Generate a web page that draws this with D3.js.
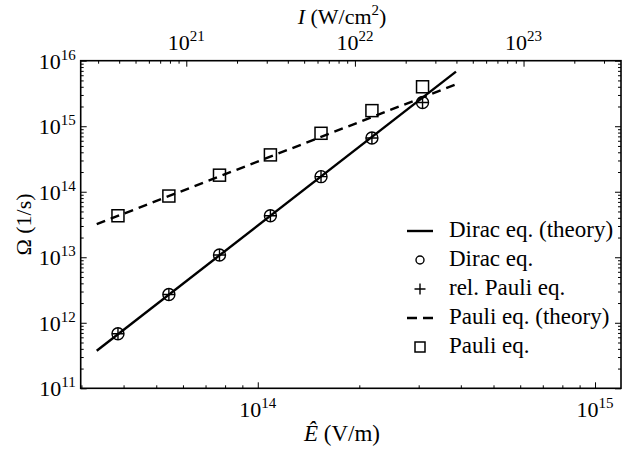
<!DOCTYPE html>
<html>
<head>
<meta charset="utf-8">
<script src="https://cdn.jsdelivr.net/npm/d3@7"></script>
<style>
  body { margin: 0; background: #fff; }
  svg text { font-family: "Liberation Serif", "Times New Roman", serif; fill: #000; }
</style>
</head>
<body>
<svg id="chart" width="631" height="449"></svg>
<script>
// field amplitudes of the simulation runs (V/m)
var eField = [3.85e13, 5.45e13, 7.7e13, 1.09e14, 1.54e14, 2.18e14, 3.08e14];
// spin rotation frequency (1/s)
var omegaDirac    = [6.8e11, 2.7e12, 1.08e13, 4.3e13, 1.7e14, 6.6e14, 2.3e15];
var omegaRelPauli = [6.8e11, 2.7e12, 1.08e13, 4.3e13, 1.7e14, 6.6e14, 2.3e15];
var omegaPauli    = [4.3e13, 8.6e13, 1.79e14, 3.65e14, 7.8e14, 1.73e15, 4.0e15];
// theory curves (end points, straight on log-log)
var diracTheoryE = [3.33e13, 3.87e14];
var diracTheoryOmega = [3.75e11, 6.8e15];
var pauliTheoryE = [3.33e13, 3.85e14];
var pauliTheoryOmega = [3.2e13, 4.3e15];

var eTicks = [1e14, 1e15];
var iTicks = [1e21, 1e22, 1e23];
var omegaTicks = [1e11, 1e12, 1e13, 1e14, 1e15, 1e16];
var legendLabels = ["Dirac eq. (theory)", "Dirac eq.", "rel. Pauli eq.", "Pauli eq. (theory)", "Pauli eq."];

// I = c*eps0*E^2, in W/cm^2
function toIntensity(e) { return 299792458 * 8.8541878e-12 * e * e / 1e4; }

var margin = {top: 60.7, left: 80.7},
    width = 540.3,
    height = 327.6;

var svg = d3.select("#chart")
  .append("g")
    .attr("transform", "translate(" + margin.left + "," + margin.top + ")");

var eMin = 2.985e13, eMax = 1.194e15;
var x = d3.scaleLog().domain([eMin, eMax]).range([0, width]);
var xI = d3.scaleLog().domain([toIntensity(eMin), toIntensity(eMax)]).range([0, width]);
var y = d3.scaleLog().domain([1e11, 1e16]).range([height, 0]);

function isPow10(v) { var l = Math.log10(v); return Math.abs(l - Math.round(l)) < 1e-6; }
function minors(s) { return s.ticks().filter(function(v) { return !isPow10(v); }); }

// ticks (all inward)
function addAxis(axisFn, scale, values, size, transform) {
  var g = svg.append("g")
    .attr("transform", transform || null)
    .call(axisFn(scale).tickValues(values).tickSize(-size).tickFormat(""));
  g.select(".domain").remove();
  g.selectAll("line").attr("stroke", "#000").attr("stroke-width", 1);
}
addAxis(d3.axisBottom, x, eTicks, 6, "translate(0," + height + ")");
addAxis(d3.axisBottom, x, minors(x), 3, "translate(0," + height + ")");
addAxis(d3.axisTop, xI, iTicks, 6);
addAxis(d3.axisTop, xI, minors(xI), 3);
addAxis(d3.axisLeft, y, omegaTicks, 6);
addAxis(d3.axisLeft, y, minors(y), 3);
addAxis(d3.axisRight, y, omegaTicks, 6, "translate(" + width + ",0)");
addAxis(d3.axisRight, y, minors(y), 3, "translate(" + width + ",0)");

// frame
svg.append("rect")
  .attr("width", width).attr("height", height)
  .attr("fill", "none").attr("stroke", "#000").attr("stroke-width", 1.6);

// tick labels as 10^n
function powLabel(sel, v) {
  sel.append("tspan").text("10");
  sel.append("tspan").attr("dy", -9).style("font-size", "15px").text(Math.round(Math.log10(v)));
}
eTicks.forEach(function(v) {
  svg.append("text").attr("x", x(v)).attr("y", height + 29)
    .attr("text-anchor", "middle").style("font-size", "22px")
    .call(powLabel, v);
});
iTicks.forEach(function(v) {
  svg.append("text").attr("x", xI(v)).attr("y", -11)
    .attr("text-anchor", "middle").style("font-size", "22px")
    .call(powLabel, v);
});
omegaTicks.forEach(function(v) {
  svg.append("text").attr("x", -5).attr("y", y(v) + 8)
    .attr("text-anchor", "end").style("font-size", "22px")
    .call(powLabel, v);
});

// axis titles
var root = d3.select("#chart");
var tb = root.append("text").attr("x", 342).attr("y", 441)
  .attr("text-anchor", "middle").style("font-size", "23px");
tb.append("tspan").style("font-style", "italic").text("\u00CA");
tb.append("tspan").text(" (V/m)");

var tt = root.append("text").attr("x", 342).attr("y", 24)
  .attr("text-anchor", "middle").style("font-size", "22px");
tt.append("tspan").style("font-style", "italic").text("I");
tt.append("tspan").text(" (W/cm");
tt.append("tspan").attr("dy", -9).style("font-size", "15px").text("2");
tt.append("tspan").attr("dy", 9).text(")");

root.append("text")
  .attr("transform", "translate(31," + (margin.top + height / 2) + ") rotate(-90)")
  .attr("text-anchor", "middle").style("font-size", "22px")
  .text("\u03A9 (1/s)");

// theory lines
var line = d3.line().x(function(d) { return x(d[0]); }).y(function(d) { return y(d[1]); });
svg.append("path")
  .datum(d3.zip(diracTheoryE, diracTheoryOmega))
  .attr("d", line).attr("fill", "none").attr("stroke", "#000").attr("stroke-width", 2.4);
svg.append("path")
  .datum(d3.zip(pauliTheoryE, pauliTheoryOmega))
  .attr("d", line).attr("fill", "none").attr("stroke", "#000").attr("stroke-width", 2.4)
  .attr("stroke-dasharray", "9,6");

// markers
var sq = 12, cr = 6;
svg.selectAll(".pauli")
  .data(d3.zip(eField, omegaPauli))
  .enter().append("rect")
    .attr("x", function(d) { return x(d[0]) - sq / 2; })
    .attr("y", function(d) { return y(d[1]) - sq / 2; })
    .attr("width", sq).attr("height", sq)
    .attr("fill", "none").attr("stroke", "#000").attr("stroke-width", 1.5);
svg.selectAll(".dirac")
  .data(d3.zip(eField, omegaDirac))
  .enter().append("circle")
    .attr("cx", function(d) { return x(d[0]); })
    .attr("cy", function(d) { return y(d[1]); })
    .attr("r", cr)
    .attr("fill", "none").attr("stroke", "#000").attr("stroke-width", 1.4);
svg.selectAll(".relpauli")
  .data(d3.zip(eField, omegaRelPauli))
  .enter().append("path")
    .attr("transform", function(d) { return "translate(" + x(d[0]) + "," + y(d[1]) + ")"; })
    .attr("d", "M-6,0H6M0,-6V6")
    .attr("stroke", "#000").attr("stroke-width", 1.4);

// legend
var lg = root.append("g");
var rowY = [237, 266, 295, 324, 353];
legendLabels.forEach(function(t, i) {
  lg.append("text").attr("x", 449).attr("y", rowY[i]).style("font-size", "23px").text(t);
});
var cy = function(i) { return rowY[i] - 6; };
lg.append("line").attr("x1", 407).attr("x2", 433).attr("y1", cy(0)).attr("y2", cy(0))
  .attr("stroke", "#000").attr("stroke-width", 2.4);
lg.append("circle").attr("cx", 420).attr("cy", cy(1)).attr("r", 4)
  .attr("fill", "none").attr("stroke", "#000").attr("stroke-width", 1.4);
lg.append("path").attr("transform", "translate(420," + cy(2) + ")")
  .attr("d", "M-5.5,0H5.5M0,-5.5V5.5").attr("stroke", "#000").attr("stroke-width", 1.4);
lg.append("line").attr("x1", 407).attr("x2", 433).attr("y1", cy(3)).attr("y2", cy(3))
  .attr("stroke", "#000").attr("stroke-width", 2.4).attr("stroke-dasharray", "10,6");
lg.append("rect").attr("x", 415).attr("y", cy(4) - 5).attr("width", 10).attr("height", 10)
  .attr("fill", "none").attr("stroke", "#000").attr("stroke-width", 1.5);
</script>
</body>
</html>
